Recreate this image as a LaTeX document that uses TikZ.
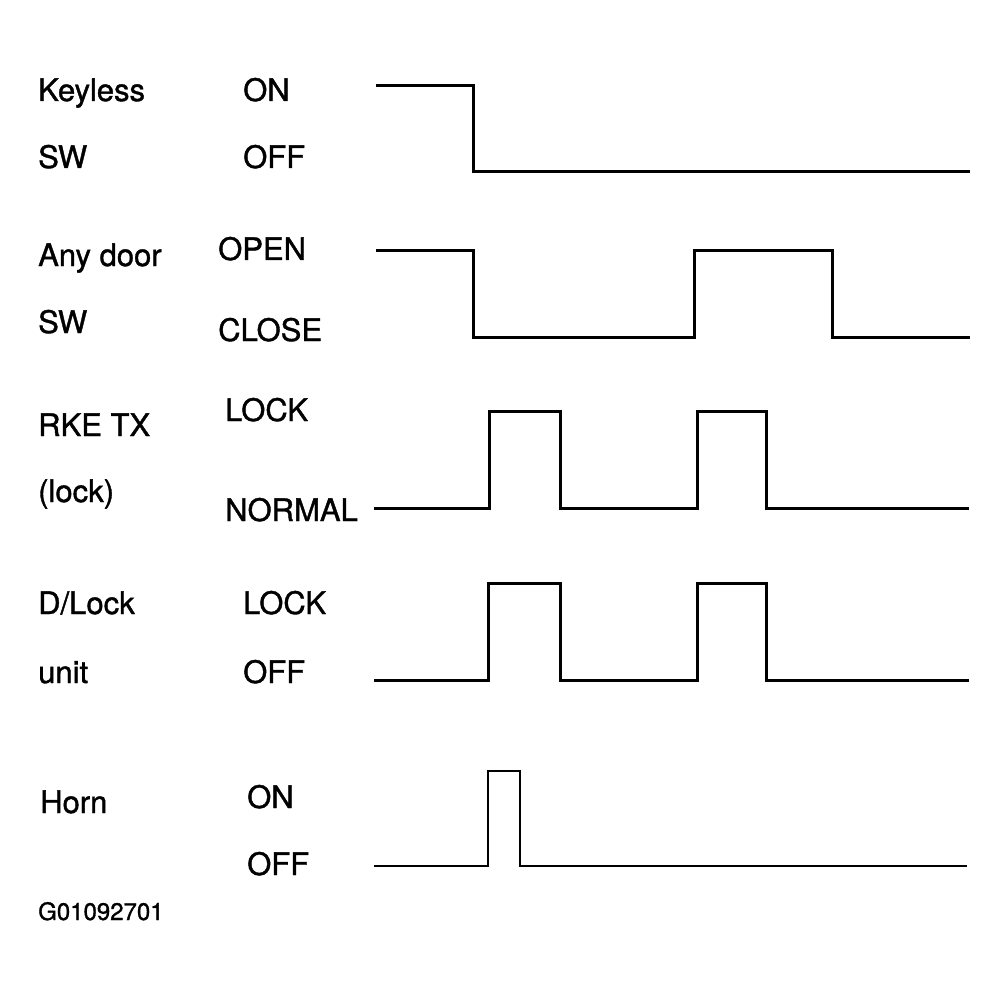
\documentclass[tikz,border=0pt]{standalone}
\usepackage{fontspec}
\setmainfont{TeX Gyre Heros}
\newfontfamily\scanfont{TeX Gyre Heros}[FakeBold=1.2]
\begin{document}
\begin{tikzpicture}[x=1pt,y=-1pt,
  lbl/.style={anchor=base west,inner sep=0pt,font=\scanfont\fontsize{31}{31}\selectfont},
  code/.style={anchor=base west,inner sep=0pt,font=\scanfont\fontsize{24}{24}\selectfont},
  wave/.style={line width=3pt,line join=miter,line cap=rect}]
\useasboundingbox (0,0) rectangle (1007,995);
% left signal names
\node[lbl] (n1a) at (38,101) {Keyless};
\node[lbl] (n1b) at (38,168) {SW};
\node[lbl] (n2a) at (38,266) {Any door};
\node[lbl] (n2b) at (38,333) {SW};
\node[lbl] (n3a) at (38,436) {RKE TX};
\node[lbl] (n3b) at (38,502) {(lock)};
\node[lbl] (n4a) at (38,614) {D/Lock};
\node[lbl] (n4b) at (38,683) {unit};
\node[lbl] (n5a) at (40,813) {Horn};
\node[code] (fig) at (38,920) {G01092701};
% state labels
\node[lbl] (s1h) at (243,101) {ON};
\node[lbl] (s1l) at (243,168) {OFF};
\node[lbl] (s2h) at (218,260) {OPEN};
\node[lbl] (s2l) at (218,341) {CLOSE};
\node[lbl] (s3h) at (225,421) {LOCK};
\node[lbl] (s3l) at (225,521) {NORMAL};
\node[lbl] (s4h) at (243,614) {LOCK};
\node[lbl] (s4l) at (243,683) {OFF};
\node[lbl] (s5h) at (247,808) {ON};
\node[lbl] (s5l) at (247,875) {OFF};
% waveforms
\draw[wave] (377,86) -- (473,86) -- (473,172) -- (968,172);
\draw[wave] (377,251) -- (473,251) -- (473,337) -- (694,337) -- (694,251) -- (832,251) -- (832,337) -- (968,337);
\draw[wave] (375,508) -- (489,508) -- (489,411) -- (560,411) -- (560,508) -- (697,508) -- (697,411) -- (766,411) -- (766,508) -- (967,508);
\draw[wave] (375,680) -- (488,680) -- (488,583) -- (560,583) -- (560,680) -- (697,680) -- (697,583) -- (766,583) -- (766,680) -- (967,680);
\draw[wave,line width=2.4pt] (375,866) -- (488,866) -- (488,771) -- (520,771) -- (520,866) -- (966,866);
\end{tikzpicture}
\end{document}
